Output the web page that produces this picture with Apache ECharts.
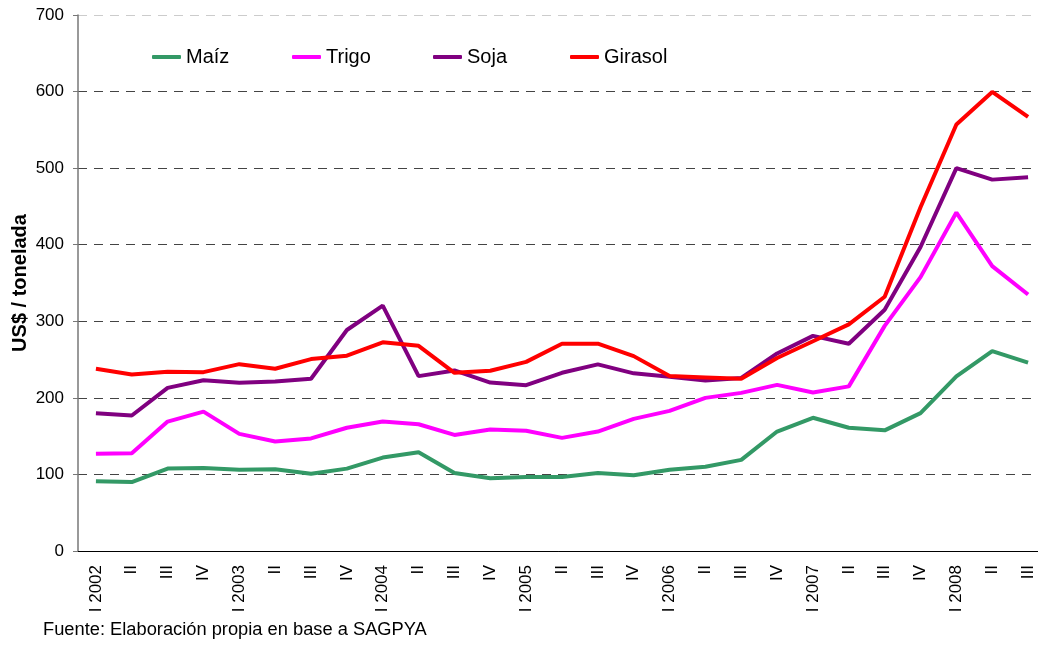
<!DOCTYPE html>
<html>
<head>
<meta charset="utf-8">
<script src="https://cdn.jsdelivr.net/npm/echarts@6/dist/echarts.min.js"></script>
<style>
  html, body { margin: 0; padding: 0; background: #fff; }
  #chart { width: 1038px; height: 645px; }
</style>
</head>
<body>
<div id="chart"></div>
<script>
const categories = [
  'I 2002', 'II', 'III', 'IV',
  'I 2003', 'II', 'III', 'IV',
  'I 2004', 'II', 'III', 'IV',
  'I 2005', 'II', 'III', 'IV',
  'I 2006', 'II', 'III', 'IV',
  'I 2007', 'II', 'III', 'IV',
  'I 2008', 'II', 'III'
]
const maiz = [91, 90, 107.6, 108.5, 106, 106.7, 101, 107.6, 122, 129, 102, 95, 96.5, 96.7, 102, 99, 106, 110, 119, 156, 174, 161, 157.6, 180, 228, 261, 246]
const trigo = [127, 127.6, 169, 182, 153, 143, 147, 161, 169, 165.5, 151.6, 158.6, 157, 147.7, 156, 172.5, 183, 200, 206.5, 217, 207, 215, 294, 357.7, 442, 372, 335]
const soja = [180, 177, 213, 223, 219.6, 221.4, 225, 288.6, 320.4, 228.4, 235.8, 220, 216.5, 232.7, 243.7, 232, 227.5, 222.8, 226, 258, 281, 270.6, 315, 397, 500, 485, 488]
const girasol = [238, 230.6, 234, 233.6, 244, 238, 250.6, 255, 272.5, 268, 232.7, 235.4, 247, 270.7, 270.7, 254.5, 228.4, 226.7, 225, 252, 274, 296, 332, 449, 557, 599.5, 567]
const yTicks = { min: 0, max: 700, interval: 100 }

const font = 'Liberation Sans, Arial, sans-serif'
const chart = echarts.init(document.getElementById('chart'))

function serie (name, data, color) {
  return {
    name: name,
    type: 'line',
    data: data,
    symbol: 'none',
    color: color,
    lineStyle: { width: 4, color: color },
    animation: false
  }
}

function legendItem (name, left) {
  return {
    data: [name],
    left: left,
    top: 47,
    padding: 0,
    icon: 'roundRect',
    itemWidth: 29,
    itemHeight: 4,
    textStyle: { fontFamily: font, fontSize: 20, color: '#000' }
  }
}

chart.setOption({
  animation: false,
  grid: { left: 78, top: 15, width: 968, height: 536, outerBoundsMode: 'none', containLabel: false },
  legend: [
    legendItem('Maíz', 152),
    legendItem('Trigo', 292),
    legendItem('Soja', 433),
    legendItem('Girasol', 570)
  ],
  xAxis: {
    type: 'category',
    data: categories,
    boundaryGap: true,
    axisLine: { lineStyle: { color: '#000', width: 1 } },
    axisTick: { length: 5, lineStyle: { color: '#555' } },
    axisLabel: {
      interval: 0,
      rotate: 90,
      margin: 14,
      fontFamily: font,
      fontSize: 17,
      color: '#000'
    },
    splitLine: { show: false }
  },
  yAxis: {
    type: 'value',
    min: yTicks.min,
    max: yTicks.max,
    interval: yTicks.interval,
    name: 'US$ / tonelada',
    nameLocation: 'middle',
    nameGap: 48,
    nameMoveOverlap: false,
    nameTextStyle: { fontFamily: font, fontSize: 20, fontWeight: 'bold', color: '#000' },
    axisLine: { show: true, lineStyle: { color: '#777', width: 1.5 } },
    axisTick: { show: true, length: 5, lineStyle: { color: '#777' } },
    axisLabel: { margin: 14, fontFamily: font, fontSize: 17, color: '#000' },
    splitLine: {
      show: true,
      lineStyle: {
        type: [9, 7],
        width: 1,
        color: ['#444', '#444', '#444', '#444', '#444', '#444', '#444', '#ccc']
      }
    }
  },
  graphic: [{
    type: 'text',
    left: 43,
    top: 621,
    style: {
      text: 'Fuente: Elaboración propia en base a SAGPYA',
      fontFamily: font,
      fontSize: 18.3,
      fill: '#000'
    }
  }],
  series: [
    serie('Maíz', maiz, '#339966'),
    serie('Trigo', trigo, '#ff00ff'),
    serie('Soja', soja, '#800080'),
    serie('Girasol', girasol, '#ff0000')
  ]
})
</script>
</body>
</html>
